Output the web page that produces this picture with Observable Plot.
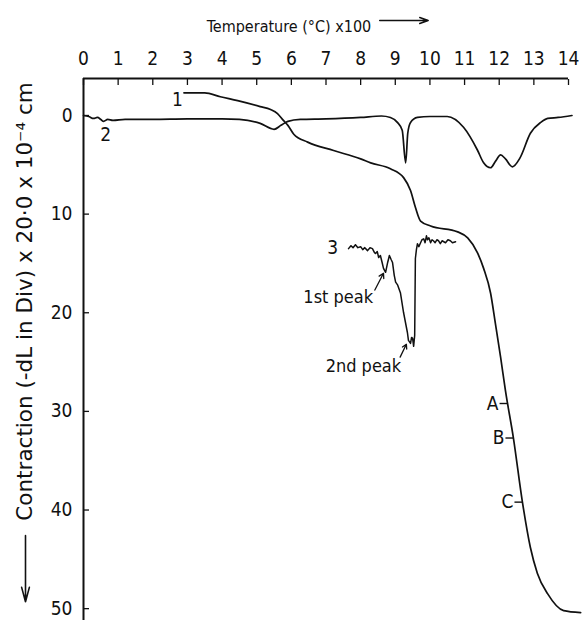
<!DOCTYPE html>
<html><head><meta charset="utf-8">
<script src="https://cdn.jsdelivr.net/npm/d3@7"></script>
<script src="https://cdn.jsdelivr.net/npm/@observablehq/plot@0.6"></script>
<style>body{margin:0;background:#fff}</style>
</head><body><div id="chart"></div>
<script>
// Temperature ticks (°C x 100) and contraction ticks
const xTicks = [0,1,2,3,4,5,6,7,8,9,10,11,12,13,14];
const yTicks = [0,10,20,30,40,50];
const xDomain = [0, 14];
const yDomain = [-3.75, 51.2];

// Curve 1 : dilatometric contraction
const c1T = [2.90,3.50,3.95,4.45,5.10,5.40,5.60,5.77,5.90,6.07,6.47,7.22,8.00,8.29,8.86,9.24,9.44,9.58,9.73,10.02,10.80,11.09,11.37,11.55,11.75,11.89,12.04,12.18,12.41,12.67,12.90,13.10,13.40,13.86,14.35];
const c1V = [-2.3,-2.3,-1.9,-1.5,-0.9,-0.6,-0.2,0.5,1.0,1.9,2.7,3.55,4.4,4.8,5.4,6.3,7.6,9.3,10.7,11.2,11.8,12.4,13.9,15.5,18.0,21.1,24.5,27.9,32.7,39.2,43.8,46.4,48.5,50.2,50.4];

// Curve 2 : DTA-like trace
const c2T = [0.00,0.15,0.29,0.40,0.50,0.58,0.70,0.85,1.2,2.0,3.0,4.0,4.5,5.1,5.5,5.7,5.9,6.26,7.0,8.0,8.6,8.86,9.06,9.20,9.30,9.36,9.44,9.64,10.0,10.5,10.97,11.37,11.55,11.75,11.90,12.04,12.18,12.38,12.60,12.90,13.20,13.40,13.70,14.10];
const c2V = [0.0,0.1,0.3,0.2,0.4,0.6,0.4,0.5,0.4,0.4,0.35,0.35,0.4,0.8,1.4,1.0,0.6,0.4,0.35,0.2,0.05,0.2,0.7,1.5,4.8,1.8,0.7,0.2,0.1,0.1,1.2,3.5,4.8,5.3,4.6,4.0,4.4,5.2,4.3,1.8,0.7,0.3,0.2,0.0];

// Curve 3 : noisy trace with two peaks
const c3T = [7.65,7.72,7.78,7.85,7.92,8.00,8.06,8.12,8.20,8.27,8.34,8.40,8.43,8.48,8.52,8.57,8.62,8.66,8.72,8.78,8.83,8.88,8.92,8.97,9.01,9.07,9.15,9.24,9.35,9.38,9.44,9.47,9.50,9.53,9.56,9.58,9.61,9.64,9.68,9.73,9.77,9.82,9.86,9.90,9.93,9.97,10.02,10.06,10.10,10.15,10.20,10.25,10.30,10.35,10.40,10.45,10.52,10.59,10.65,10.74];
const c3V = [13.5,13.2,13.4,13.1,13.4,13.3,13.6,13.4,13.7,13.4,13.5,13.9,14.0,13.8,14.4,14.2,14.9,15.5,15.9,14.9,14.2,14.6,14.9,16.2,16.9,17.2,18.0,20.0,22.0,22.8,23.1,22.5,22.6,23.4,22.3,14.5,13.6,13.0,13.3,12.9,12.6,12.5,12.9,12.2,12.6,12.4,12.9,12.6,12.7,12.9,12.6,12.7,13.0,12.7,12.8,12.9,12.6,12.7,12.9,12.8];

// Curve number labels
const curveNames = ["1","2","3"];
const curveNameT = [2.71, 0.64, 7.19];
const curveNameV = [-1.6, 2.0, 13.4];

// Peak annotations (text end position, arrow from -> to)
const peakNames = ["1st peak","2nd peak"];
const peakTextT = [8.36, 9.17];
const peakTextV = [18.4, 25.4];
const peakFromT = [8.41, 9.14];
const peakFromV = [17.7, 24.5];
const peakToT = [8.66, 9.32];
const peakToV = [16.0, 23.2];

// Points A, B, C on curve 1
const pointNames = ["A","B","C"];
const pointT = [12.24, 12.41, 12.67];
const pointV = [29.2, 32.7, 39.2];

const titleText = "Temperature (°C) x100";
const yLabelText = "Contraction (-dL in Div) x 20·0 x 10⁻⁴ cm";

const zip = (T, V, extra = {}) => T.map((t, i) => ({T: t, V: V[i], ...Object.fromEntries(Object.entries(extra).map(([k, a]) => [k, a[i]]))}));
const curve1 = zip(c1T, c1V);
const curve2 = zip(c2T, c2V);
const curve3 = zip(c3T, c3V);
const names = zip(curveNameT, curveNameV, {name: curveNames});
const peaks = peakNames.map((n, i) => ({name: n, T: peakTextT[i], V: peakTextV[i], T1: peakFromT[i], V1: peakFromV[i], T2: peakToT[i], V2: peakToV[i]}));
const points = zip(pointT, pointV, {name: pointNames});
const tickLen = 0.23;
const sans = "'DejaVu Sans Condensed', 'Liberation Sans', sans-serif";

const plot = Plot.plot({
  width: 582, height: 622,
  marginLeft: 83, marginRight: 14, marginTop: 78, marginBottom: 2,
  style: {fontFamily: sans, fontSize: "19px", color: "#111", background: "#fff"},
  x: {domain: xDomain},
  y: {domain: yDomain, reverse: true},
  marks: [
    Plot.axisX(xTicks, {anchor: "top", tickSize: -6, tickPadding: 20, label: null, fontSize: 19, strokeWidth: 1.3}),
    Plot.axisY(yTicks, {anchor: "left", tickSize: -6, tickPadding: 17, label: null, fontSize: 19, strokeWidth: 1.3}),
    Plot.ruleX([xDomain[0]], {strokeWidth: 2}),
    Plot.ruleY([yDomain[0]], {strokeWidth: 2}),
    Plot.line(curve2, {x: "T", y: "V", curve: "monotone-x", stroke: "#111", strokeWidth: 1.7}),
    Plot.line(curve1, {x: "T", y: "V", curve: "monotone-x", stroke: "#111", strokeWidth: 1.7}),
    Plot.line(curve3, {x: "T", y: "V", stroke: "#111", strokeWidth: 1.5}),
    Plot.text(names, {x: "T", y: "V", text: "name", fontSize: 19}),
    Plot.text(peaks, {x: "T", y: "V", text: "name", textAnchor: "end", fontSize: 18}),
    Plot.arrow(peaks, {x1: "T1", y1: "V1", x2: "T2", y2: "V2", headLength: 6, strokeWidth: 1.3, stroke: "#111"}),
    Plot.link(points, {x1: d => d.T - tickLen, x2: "T", y1: "V", y2: "V", strokeWidth: 1.4, stroke: "#111"}),
    Plot.text(points, {x: "T", y: "V", text: "name", textAnchor: "end", dx: -9, fontSize: 19}),
    // title above the frame, with its arrow
    Plot.text([titleText], {frameAnchor: "top", textAnchor: "middle", dy: -58, dx: -37, fontSize: 16}),
    Plot.arrow([0], {x1: 8.55, x2: 9.95, y1: yDomain[0], y2: yDomain[0], dy: -58, headLength: 9, headAngle: 40, strokeWidth: 1.5, stroke: "#111"}),
    // y label, rotated, with its downward arrow
    Plot.text([yLabelText], {frameAnchor: "left", textAnchor: "middle", rotate: -90, dx: -58, dy: -48, fontSize: 21.5, fontFamily: "DejaVu Sans"}),
    Plot.arrow([0], {x1: xDomain[0], x2: xDomain[0], y1: 42.6, y2: 49.3, dx: -58, headLength: 14, headAngle: 30, strokeWidth: 1.6, stroke: "#111"})
  ]
});
document.getElementById("chart").appendChild(plot);
</script>
</body></html>
